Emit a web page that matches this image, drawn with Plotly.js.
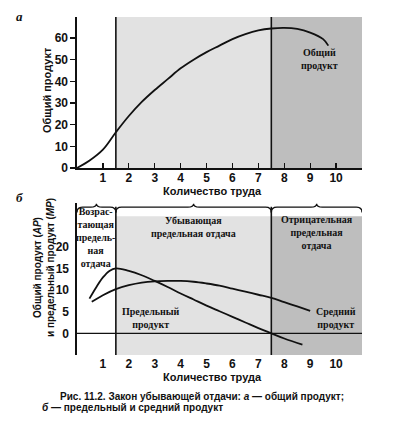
<!DOCTYPE html>
<html>
<head>
<meta charset="utf-8">
<script src="https://cdn.plot.ly/plotly-3.0.1.min.js"></script>
<style>html,body{margin:0;padding:0;background:#fff;}#chart{width:393px;height:423px;}</style>
</head>
<body>
<div id="chart"></div>
<script>
// ---- data ----
var labour = [1, 2, 3, 4, 5, 6, 7, 8, 9, 10];
var tpTicks = [0, 10, 20, 30, 40, 50, 60];
var apTicks = [0, 5, 10, 15, 20];

// total product (a)
var tpX = [0, 0.5, 1, 1.5, 2, 2.5, 3, 3.5, 4, 4.5, 5, 5.5, 6, 6.5, 7, 7.5, 8, 8.5, 9, 9.5, 9.7];
var tpY = [0, 3.6, 8.5, 16.5, 24, 30.5, 36, 41, 46, 50, 53.5, 56.5, 59.5, 61.8, 63.5, 64.4, 64.7, 64.2, 62.5, 59.5, 56.5];

// marginal product (b)
var mpX = [0.48, 0.75, 1, 1.25, 1.5, 2, 2.5, 3, 3.5, 4, 4.5, 5, 5.5, 6, 6.5, 7, 7.5, 8, 8.7];
var mpY = [8, 10.7, 12.9, 14.4, 15, 14.4, 13.4, 12.1, 10.7, 9.2, 7.8, 6.4, 5.1, 3.8, 2.5, 1.2, 0, -1.2, -2.6];

// average product (b)
var apX = [0.57, 1, 1.5, 2, 2.5, 3, 3.5, 4, 4.5, 5, 5.5, 6, 6.5, 7, 7.5, 8, 8.5, 9];
var apY = [7.3, 8.8, 10.2, 11.1, 11.7, 12, 12.1, 12.1, 11.9, 11.5, 11, 10.3, 9.6, 8.9, 8.2, 7.2, 6.2, 5.2];

// stage boundaries and labels
var stageBounds = [0, 1.5, 7.5, 11];
var stageFills = ['rgba(0,0,0,0)', '#e2e2e2', '#bebebe'];
var stageLabels = ['Возрас-<br>тающая<br>предель-<br>ная<br>отдача', 'Убывающая<br>предельная отдача', 'Отрицательная<br>предельная<br>отдача'];

// ---- chart ----
var W = 393, H = 423;
function px(x) { return x / W; }
function py(y) { return (H - y) / H; }

var lineStyle = {color: '#111', width: 1.8, shape: 'spline', smoothing: 1};
var traces = [
  {x: tpX, y: tpY, mode: 'lines', line: lineStyle, xaxis: 'x', yaxis: 'y', hoverinfo: 'skip'},
  {x: mpX, y: mpY, mode: 'lines', line: lineStyle, xaxis: 'x2', yaxis: 'y2', hoverinfo: 'skip'},
  {x: apX, y: apY, mode: 'lines', line: lineStyle, xaxis: 'x2', yaxis: 'y2', hoverinfo: 'skip'}
];

var shapes = [];
var bTop = 27, bBot = -5;
for (var i = 0; i < 3; i++) {
  var a = stageBounds[i], b = stageBounds[i + 1];
  if (i > 0) {
    shapes.push({type: 'rect', xref: 'x', yref: 'y domain', x0: a, x1: b, y0: 0, y1: 1,
      fillcolor: stageFills[i], line: {width: 0}, layer: 'below'});
    shapes.push({type: 'rect', xref: 'x2', yref: 'y2', x0: a, x1: b, y0: bBot, y1: bTop,
      fillcolor: stageFills[i], line: {width: 0}, layer: 'below'});
  }
  // brace above each stage
  var m = (a + b) / 2, d = 0.22, yb = 29.1, ye = 27.9, yc = 29.9;
  var p = 'M' + a + ',' + ye + ' Q' + a + ',' + yb + ' ' + (a + d) + ',' + yb +
          ' L' + (m - d) + ',' + yb + ' Q' + m + ',' + yb + ' ' + m + ',' + yc +
          ' Q' + m + ',' + yb + ' ' + (m + d) + ',' + yb +
          ' L' + (b - d) + ',' + yb + ' Q' + b + ',' + yb + ' ' + b + ',' + ye;
  shapes.push({type: 'path', xref: 'x2', yref: 'y2', path: p, line: {color: '#111', width: 1.3}});
}
// vertical stage lines
[stageBounds[1], stageBounds[2]].forEach(function (v) {
  shapes.push({type: 'line', xref: 'x', yref: 'y domain', x0: v, x1: v, y0: 0, y1: 1, line: {color: '#111', width: 1.6}});
  shapes.push({type: 'line', xref: 'x2', yref: 'y2', x0: v, x1: v, y0: bBot, y1: 29.2, line: {color: '#111', width: 1.6}});
});
// zero line in (b)
shapes.push({type: 'line', xref: 'x2', yref: 'y2', x0: 0, x1: 11, y0: 0, y1: 0, line: {color: '#111', width: 1.4}});

var serif = {family: 'Liberation Serif, DejaVu Serif, serif', size: 10, color: '#111', weight: 'bold'};
var sans = {family: 'Liberation Sans, Arial, sans-serif', size: 12, color: '#111', weight: 'bold'};
var sansS = {family: 'Liberation Sans, Arial, sans-serif', size: 11, color: '#111', weight: 'bold'};
var sansT = {family: 'Liberation Sans, Arial, sans-serif', size: 10, color: '#111', weight: 'bold'};
var capF = {family: 'Liberation Sans, Arial, sans-serif', size: 10, color: '#111', weight: 'bold'};

function ann(o) { o.showarrow = false; if (!o.xanchor) o.xanchor = 'center'; o.yanchor = 'middle'; return o; }

var annotations = [
  ann({xref: 'paper', yref: 'paper', x: px(19), y: py(17), text: '<i>а</i>',
    font: {family: 'Liberation Serif, serif', size: 13, color: '#111', weight: 'bold'}}),
  ann({xref: 'paper', yref: 'paper', x: px(19), y: py(197), text: '<i>б</i>',
    font: {family: 'Liberation Serif, serif', size: 13, color: '#111', weight: 'bold'}}),
  ann({xref: 'paper', yref: 'paper', x: px(47), y: py(90), text: 'Общий продукт', textangle: -90, font: sansS}),
  ann({xref: 'paper', yref: 'paper', x: px(44), y: py(268), text: 'Общий продукт (<i>AP</i>)<br>и предельный продукт (<i>MP</i>)',
    textangle: -90, font: sansT}),
  ann({xref: 'paper', yref: 'paper', x: px(212), y: py(191), text: 'Количество труда', font: sansS}),
  ann({xref: 'paper', yref: 'paper', x: px(212), y: py(377), text: 'Количество труда', font: sansS}),
  ann({xref: 'x', yref: 'y', x: 9.35, y: 50.5, text: 'Общий<br>продукт', font: serif}),
  ann({xref: 'x2', yref: 'y2', x: 2.85, y: 3.6, text: 'Предельный<br>продукт', font: serif}),
  ann({xref: 'x2', yref: 'y2', x: 10.0, y: 3.6, text: 'Средний<br>продукт', font: serif}),
  ann({xref: 'paper', yref: 'paper', x: px(58), y: py(396), xanchor: 'left',
    text: 'Рис. 11.2. Закон убывающей отдачи: <i>а</i> — общий продукт;', font: capF}),
  ann({xref: 'paper', yref: 'paper', x: px(40), y: py(407), xanchor: 'left',
    text: '<i>б</i> — предельный и средний продукт', font: capF})
];
var stageLabelX = [0.72, 4.5, 9.25];
var stageLabelY = [238, 227, 232];
for (var j = 0; j < 3; j++) {
  annotations.push(ann({xref: 'x2', yref: 'paper', x: stageLabelX[j], y: py(stageLabelY[j]), text: stageLabels[j], font: serif}));
}

var layout = {
  width: W, height: H,
  margin: {l: 0, r: 0, t: 0, b: 0},
  paper_bgcolor: '#fff', plot_bgcolor: 'rgba(0,0,0,0)',
  showlegend: false,
  xaxis: {domain: [px(77), px(362)], range: [0, 11], anchor: 'y',
    tickvals: labour.concat([11]), ticktext: labour.map(String).concat(['']),
    ticks: 'inside', ticklen: 5, tickwidth: 1.3, tickcolor: '#111',
    showline: true, linecolor: '#111', linewidth: 1.6, showgrid: false, zeroline: false,
    tickfont: sans, ticklabelstandoff: -2},
  yaxis: {domain: [py(168), py(17)], range: [0, 69.7], anchor: 'x',
    tickvals: tpTicks, ticks: 'outside', ticklen: 5, tickwidth: 1.3, tickcolor: '#111',
    showline: true, linecolor: '#111', linewidth: 1.6, showgrid: false, zeroline: false,
    tickfont: sans},
  xaxis2: {domain: [px(77), px(362)], range: [0, 11], anchor: 'y2',
    tickvals: labour, ticks: '', showline: false, showgrid: false, zeroline: false,
    tickfont: sans},
  yaxis2: {domain: [py(355), py(203)], range: [-5, 30.07], anchor: 'x2',
    tickvals: apTicks, ticks: '', showline: true, linecolor: '#111', linewidth: 1.6,
    showgrid: false, zeroline: false, tickfont: sans, ticklabelstandoff: 4},
  shapes: shapes,
  annotations: annotations
};

Plotly.newPlot('chart', traces, layout, {staticPlot: true, displayModeBar: false});
</script>
</body>
</html>
